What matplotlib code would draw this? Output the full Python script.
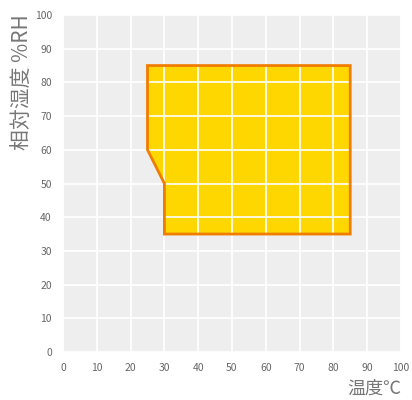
import matplotlib
matplotlib.use("Agg")
import matplotlib.pyplot as plt
from matplotlib.patches import Polygon

plt.rcParams["font.family"] = ["Noto Sans CJK JP", "DejaVu Sans"]

# operating range outline (temperature, humidity)
temp = [25, 85, 85, 30, 30, 25]
humidity = [85, 85, 35, 35, 50, 60]
ticks = list(range(0, 101, 10))

fig = plt.figure(figsize=(4.12, 4.00), dpi=100)
ax = fig.add_axes([0.153, 0.12, 0.82, 0.8425])
ax.set_facecolor("#eeeeee")

pts = list(zip(temp, humidity))
# fill under the grid, outline on top of it
ax.add_patch(Polygon(pts, closed=True, facecolor="#ffd700",
                     edgecolor="none", zorder=1))
ax.add_patch(Polygon(pts, closed=True, facecolor="none",
                     edgecolor="#f07d00", linewidth=2, zorder=3))

ax.set_xlim(0, 100)
ax.set_ylim(0, 100)
ax.set_xticks(ticks)
ax.set_yticks(ticks)
ax.grid(True, color="white", linewidth=1.2, zorder=2)
ax.set_axisbelow(False)
for s in ax.spines.values():
    s.set_visible(False)
ax.tick_params(length=0, labelsize=7.5, labelcolor="#666666", pad=8)

ax.set_ylabel("相対湿度 %RH", fontsize=15, color="#777777")
ax.yaxis.set_label_coords(-0.088, 0.80)
ax.set_xlabel("温度℃", fontsize=13, color="#777777", loc="right", labelpad=5)

fig.savefig("out.png", dpi=100)
